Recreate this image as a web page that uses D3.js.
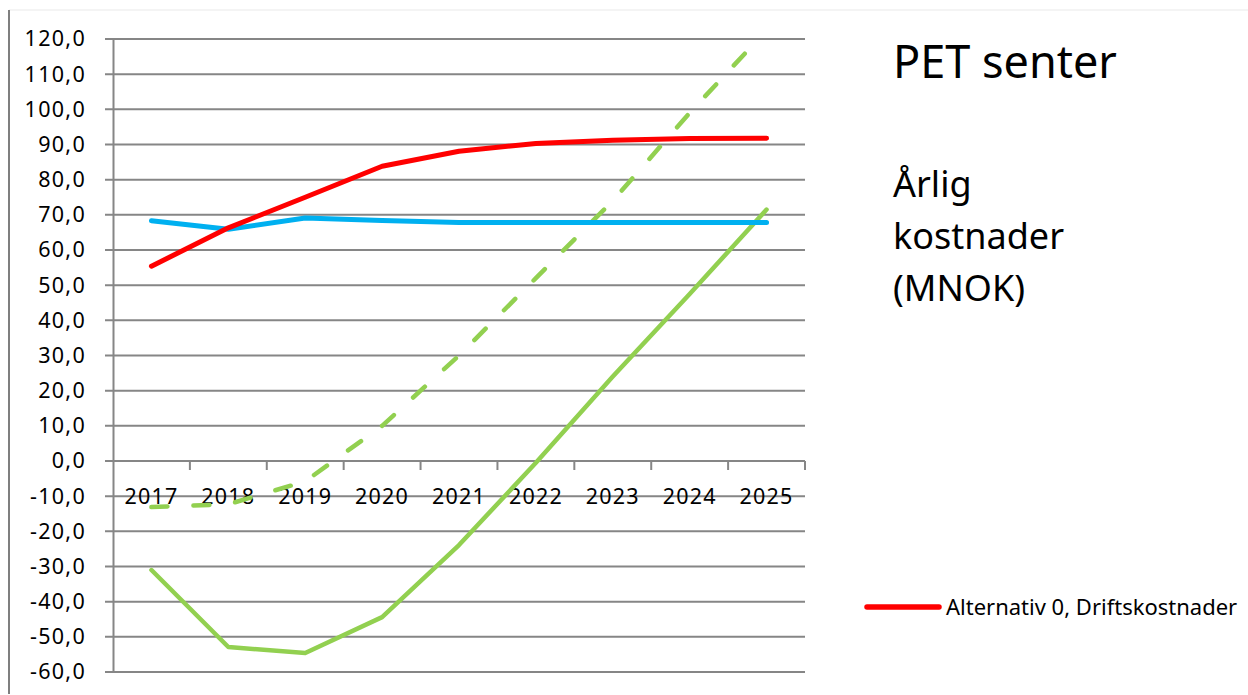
<!DOCTYPE html>
<html>
<head>
<meta charset="utf-8">
<script src="https://cdn.jsdelivr.net/npm/d3@7"></script>
<style>
  html, body { margin: 0; padding: 0; background: #fff; }
  svg { display: block; font-family: 'Noto Sans', 'Open Sans', sans-serif; }
</style>
</head>
<body>
<div id="chart"></div>
<script>
const years = ['2017', '2018', '2019', '2020', '2021', '2022', '2023', '2024', '2025'];
const yTicks = [120, 110, 100, 90, 80, 70, 60, 50, 40, 30, 20, 10, 0, -10, -20, -30, -40, -50, -60];

// values in MNOK
const alt0Drift = [55.4, 66.3, 75.0, 83.8, 88.1, 90.3, 91.2, 91.7, 91.8];
const blueSeries = [68.3, 65.9, 69.1, 68.4, 67.8, 67.8, 67.8, 67.8, 67.8];
const greenSolid = [-31.0, -52.9, -54.6, -44.4, -23.9, -0.5, 24.0, 47.5, 71.5];
const greenDashed = [-13.1, -12.3, -5.8, 10.0, 30.0, 52.0, 74.0, 99.0, 122.5];

const legendLabel = 'Alternativ 0, Driftskostnader';
const titleLines = ['PET senter'];
const subtitleLines = ['Årlig', 'kostnader', '(MNOK)'];

const width = 1248;
const height = 695;
const margin = { top: 39, left: 113, right: 443, bottom: 23 };

const svg = d3.select('#chart')
  .append('svg')
  .attr('width', width)
  .attr('height', height);

// outer frame of the chart object
svg.append('line')
  .attr('x1', 9).attr('x2', width).attr('y1', 10).attr('y2', 10)
  .attr('stroke', '#f0f0f0').attr('stroke-width', 1.5);
svg.append('line')
  .attr('x1', 9).attr('x2', 9).attr('y1', 10).attr('y2', 694)
  .attr('stroke', '#7f7f7f').attr('stroke-width', 2);

const x = d3.scaleBand()
  .domain(years)
  .range([margin.left, width - margin.right]);

const y = d3.scaleLinear()
  .domain([-60, 120])
  .range([672, margin.top]);

const g = svg.append('g');

// horizontal gridlines
g.selectAll('.y-grid')
  .data(yTicks)
  .enter()
  .append('line')
  .attr('class', 'y-grid')
  .attr('x1', margin.left - 8)
  .attr('x2', width - margin.right)
  .attr('y1', d => y(d))
  .attr('y2', d => y(d))
  .attr('stroke', '#868686')
  .attr('stroke-width', 2);

// y axis
const yAxis = g.append('g')
  .attr('transform', `translate(${margin.left},0)`)
  .call(d3.axisLeft(y)
    .tickValues(yTicks)
    .tickSize(0)
    .tickPadding(27)
    .tickFormat(d => d3.format('.1f')(d).replace('.', ',').replace('−', '-')));
yAxis.select('.domain')
  .attr('stroke', '#868686')
  .attr('stroke-width', 2);
yAxis.selectAll('text')
  .attr('fill', '#000')
  .attr('font-size', 21.5)
  .attr('letter-spacing', 1.3)
  .attr('font-family', "'Noto Sans', sans-serif");

// x axis sits on the zero line, labels hang at -10
const xAxis = g.append('g')
  .attr('transform', `translate(0,${y(0)})`)
  .call(d3.axisBottom(x).tickSize(0).tickPadding(0));
xAxis.select('.domain').remove();
xAxis.selectAll('text')
  .attr('y', y(-10) - y(0))
  .attr('dy', '0.35em')
  .attr('fill', '#000')
  .attr('font-size', 21.5)
  .attr('letter-spacing', 1.2)
  .attr('font-family', "'Noto Sans', sans-serif");

const bounds = years.map(d => x(d)).concat([x(years[years.length - 1]) + x.bandwidth()]).slice(1);
g.selectAll('.x-tick')
  .data(bounds)
  .enter()
  .append('line')
  .attr('class', 'x-tick')
  .attr('x1', d => d)
  .attr('x2', d => d)
  .attr('y1', y(0))
  .attr('y2', y(0) + 9)
  .attr('stroke', '#868686')
  .attr('stroke-width', 2);

// clip lines to plot area
svg.append('clipPath')
  .attr('id', 'plot-clip')
  .append('rect')
  .attr('x', margin.left)
  .attr('y', y(120))
  .attr('width', width - margin.right - margin.left)
  .attr('height', y(-60) - y(120));

const line = d3.line()
  .x((d, i) => x(years[i]) + x.bandwidth() / 2)
  .y(d => y(d));

const series = [
  { values: greenSolid, color: '#92D050', width: 4.5, dash: null },
  { values: greenDashed, color: '#92D050', width: 4.5, dash: '16,26' },
  { values: blueSeries, color: '#00B0F0', width: 5, dash: null },
  { values: alt0Drift, color: '#FF0000', width: 5, dash: null }
];

const lines = svg.append('g').attr('clip-path', 'url(#plot-clip)');
lines.selectAll('path')
  .data(series)
  .enter()
  .append('path')
  .attr('fill', 'none')
  .attr('stroke', d => d.color)
  .attr('stroke-width', d => d.width)
  .attr('stroke-linecap', 'round')
  .attr('stroke-linejoin', 'round')
  .attr('stroke-dasharray', d => d.dash)
  .attr('d', d => line(d.values));

// titles at the right
svg.selectAll('.title')
  .data(titleLines)
  .enter()
  .append('text')
  .attr('class', 'title')
  .attr('x', 893)
  .attr('y', 78)
  .attr('font-size', 45)
  .attr('fill', '#000')
  .text(d => d);

svg.selectAll('.subtitle')
  .data(subtitleLines)
  .enter()
  .append('text')
  .attr('class', 'subtitle')
  .attr('x', 893)
  .attr('y', (d, i) => 197 + i * 52)
  .attr('font-size', 36)
  .attr('fill', '#000')
  .text(d => d);

// legend
const legend = svg.append('g').attr('transform', 'translate(867,607)');
legend.append('line')
  .attr('x1', 0).attr('x2', 72)
  .attr('y1', 0).attr('y2', 0)
  .attr('stroke', '#FF0000')
  .attr('stroke-width', 5.5)
  .attr('stroke-linecap', 'round');
legend.append('text')
  .attr('x', 79)
  .attr('y', 0)
  .attr('dy', '0.35em')
  .attr('font-size', 22)
  .attr('fill', '#000')
  .text(legendLabel);
</script>
</body>
</html>
